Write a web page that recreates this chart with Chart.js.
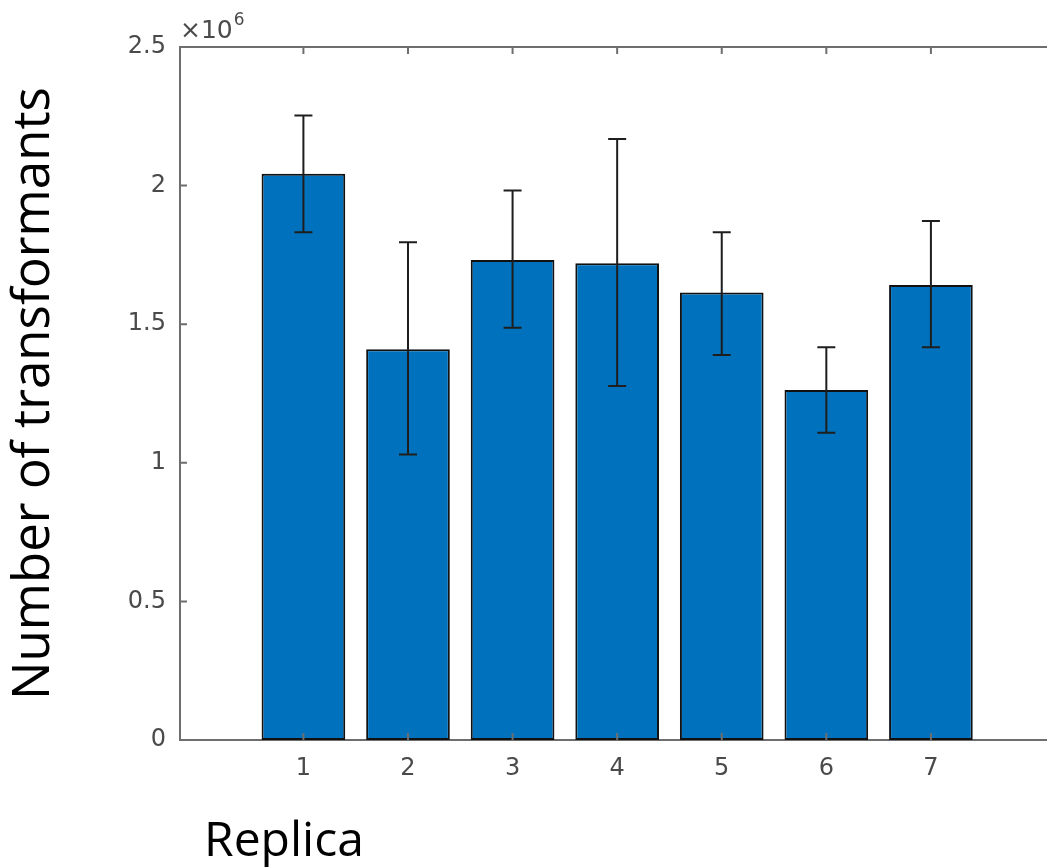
<!DOCTYPE html>
<html>
<head>
<meta charset="utf-8">
<script src="https://cdn.jsdelivr.net/npm/chart.js@4/dist/chart.umd.min.js"></script>
<style>
    html, body { margin: 0; padding: 0; background: #fff; overflow: hidden; }
    #wrap { width: 1047px; height: 867px; }
</style>
</head>
<body>
<div id="wrap"><canvas id="replicaChart" width="1047" height="867"></canvas></div>
<script>
const replicas = [1, 2, 3, 4, 5, 6, 7];
const transformants = [2043000, 1410000, 1732000, 1720000, 1614000, 1263000, 1641000];
const errLow = [1832000, 1030000, 1487000, 1277000, 1389000, 1108000, 1417000];
const errHigh = [2253000, 1796000, 1982000, 2168000, 1832000, 1417000, 1872000];
const yTicks = [0, 500000, 1000000, 1500000, 2000000, 2500000];

const axisColor = '#6e6e6e';
const labelColor = '#4a4a4a';

// matlab-ish box: top line, inward ticks, error bars, exponent, x title
const matlabAxes = {
    id: 'matlabAxes',
    afterDatasetsDraw(chart) {
        const ctx = chart.ctx;
        const x = chart.scales.x;
        const y = chart.scales.y;
        const area = chart.chartArea;

        ctx.save();
        // error bars
        ctx.strokeStyle = '#1e1e1e';
        ctx.lineWidth = 2;
        replicas.forEach((r, i) => {
            const px = x.getPixelForValue(r);
            const lo = y.getPixelForValue(errLow[i]);
            const hi = y.getPixelForValue(errHigh[i]);
            ctx.beginPath();
            ctx.moveTo(px, lo); ctx.lineTo(px, hi);
            ctx.moveTo(px - 9, lo); ctx.lineTo(px + 9, lo);
            ctx.moveTo(px - 9, hi); ctx.lineTo(px + 9, hi);
            ctx.stroke();
        });

        // top border
        ctx.strokeStyle = axisColor;
        ctx.lineWidth = 2;
        ctx.beginPath();
        ctx.moveTo(area.left, area.top);
        ctx.lineTo(area.right, area.top);
        ctx.stroke();

        // inward ticks
        ctx.beginPath();
        replicas.forEach(r => {
            const px = x.getPixelForValue(r);
            ctx.moveTo(px, area.bottom); ctx.lineTo(px, area.bottom - 7);
            ctx.moveTo(px, area.top); ctx.lineTo(px, area.top + 7);
        });
        yTicks.forEach(v => {
            const py = y.getPixelForValue(v);
            ctx.moveTo(area.left, py); ctx.lineTo(area.left + 7, py);
        });
        ctx.stroke();

        // exponent label
        ctx.fillStyle = labelColor;
        ctx.textBaseline = 'alphabetic';
        ctx.textAlign = 'left';
        ctx.font = '25px "DejaVu Sans"';
        ctx.fillText('\u00d710', area.left, area.top - 9);
        const w = ctx.measureText('\u00d710').width;
        ctx.font = '17px "DejaVu Sans"';
        ctx.fillText('6', area.left + w + 1, area.top - 22);

        // x axis title, left aligned like the original
        ctx.fillStyle = '#000';
        ctx.font = '48px "Open Sans"';
        ctx.fillText('Replica', 204, 856);
        ctx.restore();
    }
};

new Chart(document.getElementById('replicaChart'), {
    type: 'bar',
    data: {
        datasets: [{
            label: 'Number of transformants',
            data: replicas.map((r, i) => ({ x: r, y: transformants[i] })),
            backgroundColor: '#0072BD',
            borderColor: '#111',
            borderWidth: 2,
            borderSkipped: false,
            barPercentage: 0.8,
            categoryPercentage: 1.0
        }]
    },
    options: {
        responsive: false,
        animation: false,
        layout: {
            padding: { top: 47, right: 0, bottom: 0, left: 0 }
        },
        plugins: {
            legend: { display: false },
            tooltip: { enabled: false }
        },
        scales: {
            x: {
                type: 'linear',
                offset: false,
                min: -0.18,
                max: 8.11,
                afterFit: scale => { scale.height = 127; },
                afterBuildTicks: scale => {
                    scale.ticks = replicas.map(v => ({ value: v }));
                },
                grid: { display: false, drawTicks: false, offset: false },
                border: { display: true, color: axisColor, width: 2 },
                ticks: {
                    padding: 14,
                    color: labelColor,
                    font: { family: 'DejaVu Sans', size: 24 },
                    callback: v => String(v)
                }
            },
            y: {
                min: 0,
                max: 2500000,
                afterFit: scale => { scale.width = 180; },
                afterBuildTicks: scale => {
                    scale.ticks = yTicks.map(v => ({ value: v }));
                },
                grid: { display: false, drawTicks: false },
                border: { display: true, color: axisColor, width: 2 },
                ticks: {
                    padding: 14,
                    color: labelColor,
                    font: { family: 'DejaVu Sans', size: 24 },
                    callback: v => String(v / 1000000)
                },
                title: {
                    display: true,
                    text: 'Number of transformants',
                    color: '#000',
                    font: { family: 'Open Sans', size: 51 },
                    padding: { top: 4, bottom: 0 }
                }
            }
        }
    },
    plugins: [matlabAxes]
});
</script>
</body>
</html>
